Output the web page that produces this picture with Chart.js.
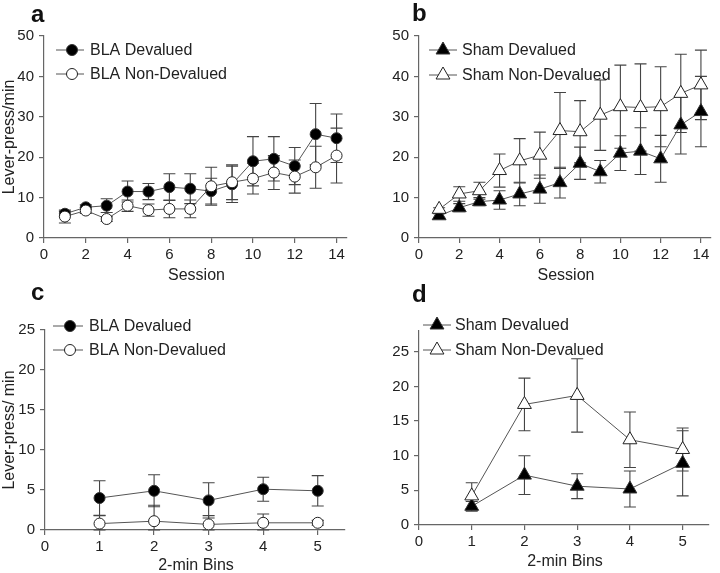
<!DOCTYPE html>
<html>
<head>
<meta charset="utf-8">
<script src="https://cdn.jsdelivr.net/npm/chart.js@4.4.1/dist/chart.umd.min.js"></script>
<style>
html, body { margin: 0; padding: 0; background: #fff; }
#wrap { position: relative; width: 720px; height: 573px; overflow: hidden; }
#wrap canvas { position: absolute; }
.tag { position: absolute; font: bold 24px/24px "Liberation Sans", Arial, sans-serif; color: #111; }
</style>
</head>
<body>
<div id="wrap">
  <canvas id="chA" width="360" height="287" style="left:0;top:0"></canvas>
  <canvas id="chB" width="360" height="287" style="left:360px;top:0"></canvas>
  <canvas id="chC" width="360" height="286" style="left:0;top:287px"></canvas>
  <canvas id="chD" width="360" height="286" style="left:360px;top:287px"></canvas>
  <div class="tag" style="left:31px;top:2px">a</div>
  <div class="tag" style="left:412px;top:1px">b</div>
  <div class="tag" style="left:31px;top:280px">c</div>
  <div class="tag" style="left:412px;top:282px">d</div>
</div>
<script>
// sessions (panels a, b)
const sessions = [1, 2, 3, 4, 5, 6, 7, 8, 9, 10, 11, 12, 13, 14];
const blaDev     = [6.0, 7.6, 8.0, 11.5, 11.5, 12.6, 12.2, 11.6, 13.3, 19.0, 19.6, 17.8, 25.7, 24.7];
const blaDevSem  = [0.6, 0.6, 1.7, 2.6, 2.0, 3.3, 3.7, 3.2, 4.5, 6.1, 5.5, 4.6, 7.6, 6.0];
const blaNon     = [5.3, 6.8, 4.7, 8.0, 6.9, 7.2, 7.2, 12.8, 13.8, 14.7, 16.2, 15.2, 17.5, 20.4];
const blaNonSem  = [1.6, 0.7, 0.6, 1.4, 1.5, 2.2, 2.2, 4.7, 4.3, 3.8, 4.2, 4.1, 5.2, 6.8];
const shamDev    = [5.5, 7.5, 9.0, 9.4, 10.9, 12.1, 13.7, 18.5, 16.4, 21.0, 21.5, 19.6, 28.0, 31.3];
const shamDevSem = [0.5, 1.0, 1.0, 2.3, 2.9, 3.5, 3.8, 4.0, 2.8, 4.3, 5.8, 5.8, 7.2, 8.7];
const shamNon    = [7.1, 10.9, 11.7, 16.7, 19.1, 20.5, 26.6, 26.3, 30.4, 32.5, 32.3, 32.5, 35.8, 37.9];
const shamNonSem = [0.4, 1.8, 2.1, 4.1, 5.5, 5.7, 9.4, 7.7, 8.7, 10.3, 10.8, 9.9, 9.7, 8.6];

// 2-min bins (panels c, d)
const bins = [1, 2, 3, 4, 5];
const blaDevBins     = [4.0, 4.9, 3.7, 5.1, 4.9];
const blaDevBinsSem  = [2.15, 2.0, 2.2, 1.5, 1.9];
const blaNonBins     = [0.8, 1.1, 0.7, 0.9, 0.9];
const blaNonBinsSem  = [1.0, 2.0, 1.1, 1.1, 0.3];
const shamDevBins    = [2.7, 7.2, 5.6, 5.2, 8.9];
const shamDevBinsSem = [0.7, 2.8, 1.8, 2.6, 4.7];
const shamNonBins    = [4.2, 17.4, 18.7, 12.3, 10.9];
const shamNonBinsSem = [1.9, 3.8, 5.3, 4.0, 3.1];

const FONT = '"Liberation Sans", Arial, Helvetica, sans-serif';
const LINE = '#555';
const AXIS = '#666';
const TEXT = '#222';

const pts = (xs, ys) => xs.map((x, i) => ({x, y: ys[i]}));

function series(label, xs, ys, sem, style, filled) {
  return {
    label,
    data: pts(xs, ys),
    sem,
    borderColor: LINE,
    borderWidth: 1,
    pointStyle: style,
    pointRadius: style === 'triangle' ? 8 : 5.5,
    pointBackgroundColor: filled ? '#000' : '#fff',
    pointBorderColor: filled ? '#333' : '#222',
    pointBorderWidth: 1,
    order: filled ? 1 : 0,
  };
}

// SEM bars under the markers, placed through the chart scales
const errorBars = {
  id: 'errorBars',
  beforeDatasetsDraw(chart) {
    const ctx = chart.ctx;
    const xs = chart.scales.x, ys = chart.scales.y;
    ctx.save();
    ctx.strokeStyle = '#444';
    ctx.lineWidth = 1.1;
    chart.data.datasets.forEach(ds => {
      ds.data.forEach((p, i) => {
        const e = ds.sem[i];
        const px = xs.getPixelForValue(p.x);
        const top = ys.getPixelForValue(p.y + e);
        const bot = ys.getPixelForValue(Math.max(0, p.y - e));
        ctx.beginPath();
        ctx.moveTo(px, top); ctx.lineTo(px, bot);
        ctx.moveTo(px - 6, top); ctx.lineTo(px + 6, top);
        ctx.moveTo(px - 6, bot); ctx.lineTo(px + 6, bot);
        ctx.stroke();
      });
    });
    ctx.restore();
  }
};

// legend with a line through the marker, plus the x title
const panelLegend = {
  id: 'panelLegend',
  afterDraw(chart, args, o) {
    const ctx = chart.ctx;
    ctx.save();
    ctx.font = '16px ' + FONT;
    chart.data.datasets.forEach((ds, i) => {
      const y = o.rows[i];
      ctx.strokeStyle = LINE;
      ctx.lineWidth = 1;
      ctx.beginPath(); ctx.moveTo(o.x1, y); ctx.lineTo(o.x2, y); ctx.stroke();
      ctx.fillStyle = ds.pointBackgroundColor;
      ctx.strokeStyle = ds.pointBorderColor;
      Chart.helpers.drawPoint(ctx, {pointStyle: ds.pointStyle, radius: ds.pointRadius, borderWidth: 1, rotation: 0}, o.mx, y);
      ctx.fillStyle = TEXT;
      ctx.textBaseline = 'middle';
      ctx.textAlign = 'left';
      ctx.fillText(ds.label, o.tx, y + 1);
    });
    const area = chart.chartArea;
    ctx.textBaseline = 'alphabetic';
    ctx.textAlign = 'center';
    ctx.fillText(o.xTitle, (area.left + area.right) / 2 + 1, o.xTitleBase);
    ctx.restore();
  }
};

function makeChart(id, datasets, p) {
  const canvas = document.getElementById(id);
  const W = canvas.width, H = canvas.height;
  return new Chart(canvas, {
    type: 'line',
    data: {datasets},
    plugins: [errorBars, panelLegend],
    options: {
      responsive: false,
      animation: false,
      layout: {padding: {left: 0, top: p.area.top, right: W - p.area.right, bottom: 0}},
      plugins: {
        legend: {display: false},
        tooltip: {enabled: false},
        panelLegend: p.legend,
      },
      scales: {
        x: {
          type: 'linear', min: 0, max: p.xMax,
          afterFit: s => { s.height = H - p.area.bottom; },
          afterBuildTicks: s => { s.ticks = s.ticks.filter(t => Number.isInteger(t.value / p.xStep)); },
          grid: {drawOnChartArea: false, drawTicks: true, tickLength: 5, color: AXIS, lineWidth: 1.2},
          border: {display: true, color: AXIS, width: 1.2},
          ticks: {stepSize: p.xStep, includeBounds: false, autoSkip: false, maxRotation: 0, color: TEXT, padding: 3, font: {family: FONT, size: 15}},
          title: {display: false},
        },
        y: {
          type: 'linear', min: 0, max: p.yMax,
          afterFit: s => { s.width = p.area.left; },
          afterBuildTicks: s => { s.ticks = s.ticks.filter(t => Number.isInteger(t.value / p.yStep)); },
          grid: {drawOnChartArea: false, drawTicks: true, tickLength: 5, color: AXIS, lineWidth: 1.2},
          border: {display: true, color: AXIS, width: 1.2},
          ticks: {stepSize: p.yStep, includeBounds: false, autoSkip: false, color: TEXT, padding: 5, font: {family: FONT, size: 15}},
          title: {display: !!p.yTitle, text: p.yTitle, color: TEXT, font: {family: FONT, size: 16}, padding: {top: 0, bottom: 0}},
        }
      }
    }
  });
}

makeChart('chA', [
  series('BLA Devalued', sessions, blaDev, blaDevSem, 'circle', true),
  series('BLA Non-Devalued', sessions, blaNon, blaNonSem, 'circle', false),
], {
  area: {left: 44, right: 347, top: 36, bottom: 238},
  xMax: 14.5, xStep: 2, yMax: 50, yStep: 10, yTitle: 'Lever-press/min',
  legend: {x1: 56, x2: 84, mx: 72, tx: 90, rows: [50, 74], xTitle: 'Session', xTitleBase: 280},
});

makeChart('chB', [
  series('Sham Devalued', sessions, shamDev, shamDevSem, 'triangle', true),
  series('Sham Non-Devalued', sessions, shamNon, shamNonSem, 'triangle', false),
], {
  area: {left: 59, right: 360, top: 36, bottom: 238},
  xMax: 14.5, xStep: 2, yMax: 50, yStep: 10, yTitle: '',
  legend: {x1: 69, x2: 97, mx: 83, tx: 102, rows: [50, 75], xTitle: 'Session', xTitleBase: 280},
});

makeChart('chC', [
  series('BLA Devalued', bins, blaDevBins, blaDevBinsSem, 'circle', true),
  series('BLA Non-Devalued', bins, blaNonBins, blaNonBinsSem, 'circle', false),
], {
  area: {left: 45, right: 345, top: 43, bottom: 243},
  xMax: 5.5, xStep: 1, yMax: 25, yStep: 5, yTitle: 'Lever-press/ min',
  legend: {x1: 53, x2: 83, mx: 70, tx: 89, rows: [39, 63], xTitle: '2-min Bins', xTitleBase: 283},
});

makeChart('chD', [
  series('Sham Devalued', bins, shamDevBins, shamDevBinsSem, 'triangle', true),
  series('Sham Non-Devalued', bins, shamNonBins, shamNonBinsSem, 'triangle', false),
], {
  area: {left: 59, right: 349, top: 44, bottom: 238},
  xMax: 5.5, xStep: 1, yMax: 28, yStep: 5, yTitle: '',
  legend: {x1: 63, x2: 91, mx: 77, tx: 95, rows: [38, 63], xTitle: '2-min Bins', xTitleBase: 279},
});
</script>
</body>
</html>
